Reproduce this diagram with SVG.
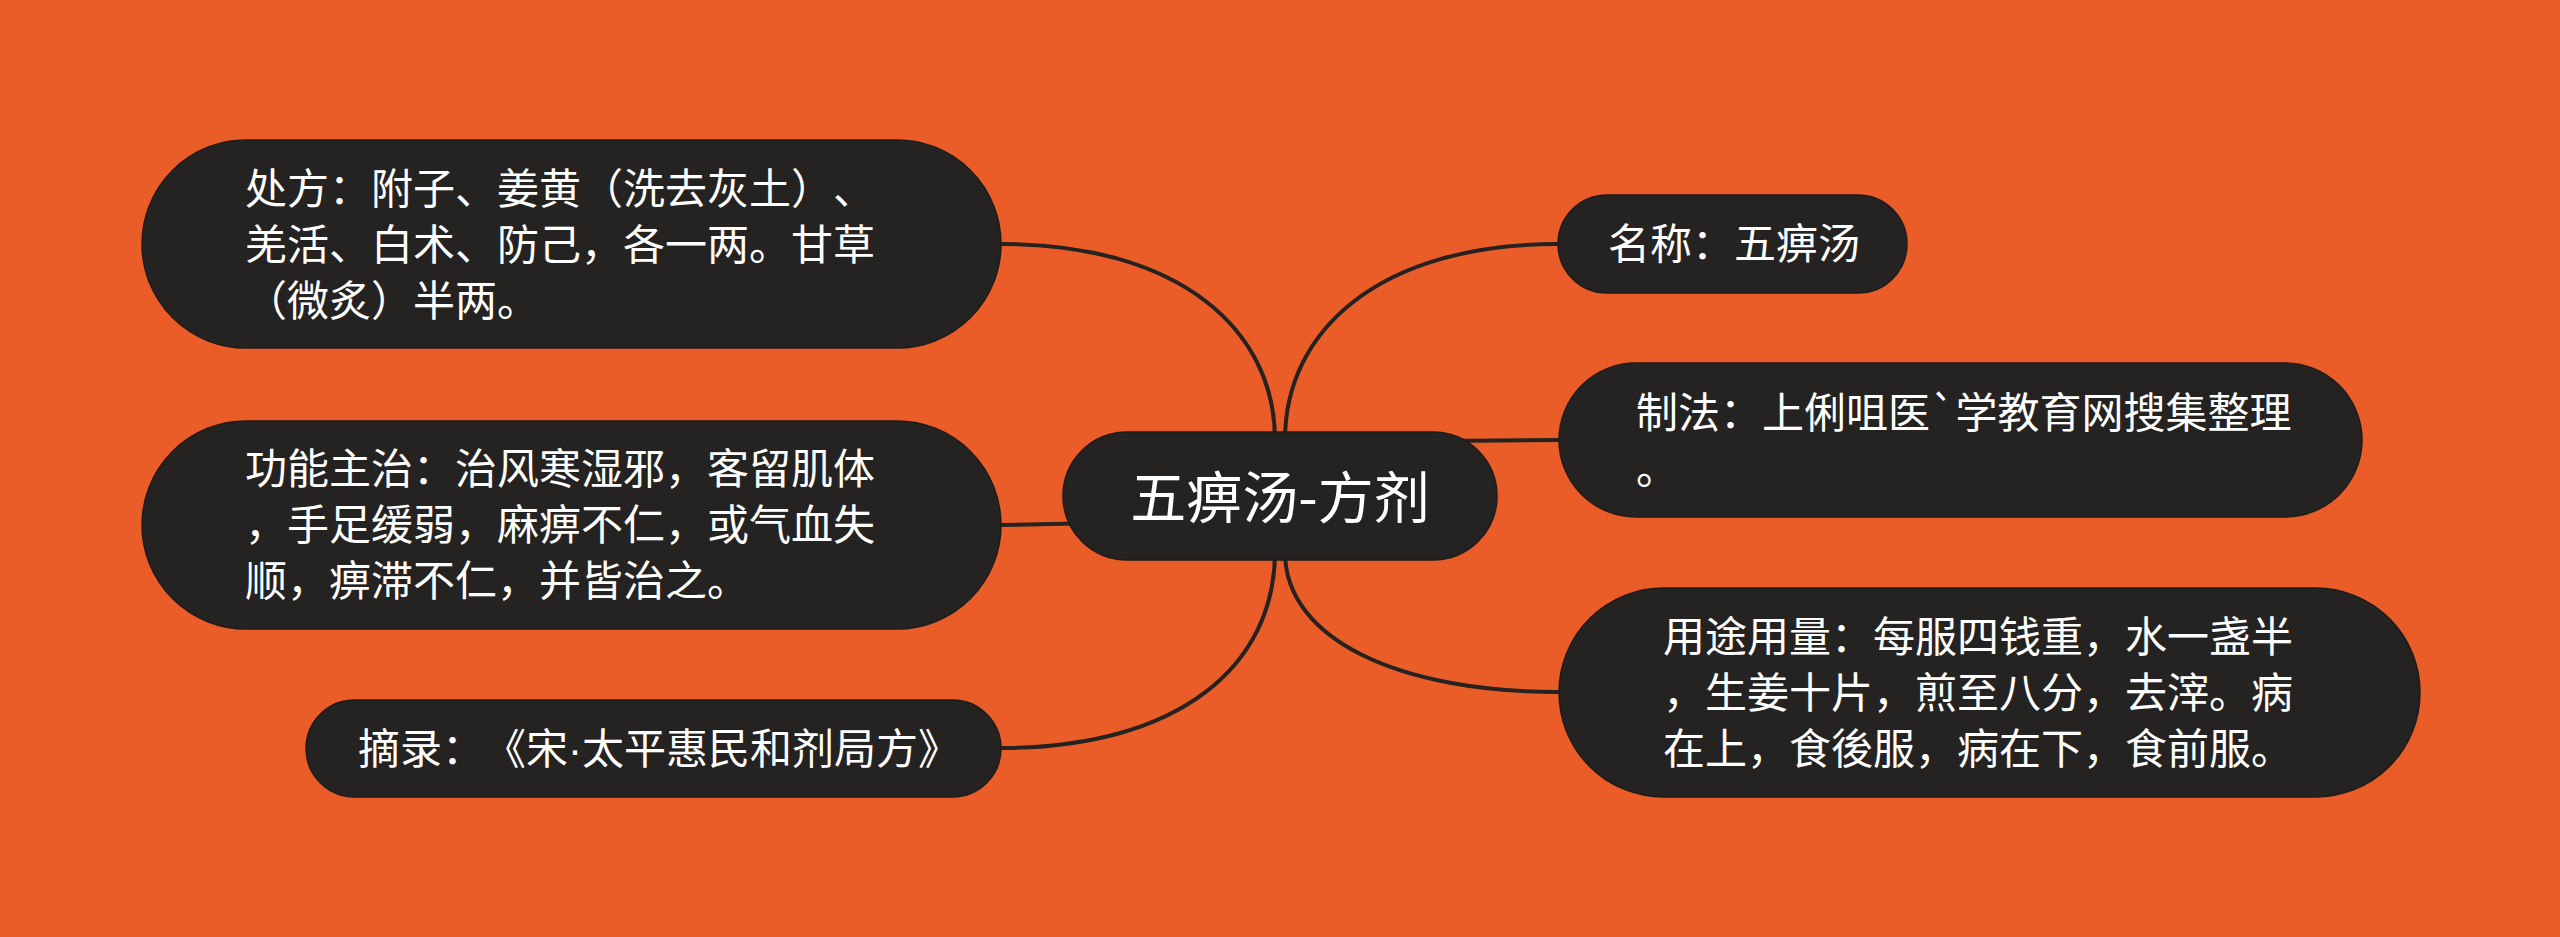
<svg xmlns="http://www.w3.org/2000/svg" width="2560" height="937" viewBox="0 0 2560 937">
<style>
.bg{fill:#EA5D29}
.pill{fill:#252322;stroke:#1e1c1b;stroke-width:1.5}
.t{font-family:"Noto Sans CJK SC","Noto Sans",sans-serif;font-size:42px;fill:#ffffff;text-spacing-trim:space-all;font-kerning:none}
.ct{font-family:"Noto Sans CJK SC","Noto Sans",sans-serif;font-size:56px;fill:#ffffff;text-anchor:middle}
.dot{font-family:"Liberation Sans",sans-serif}
.ln{fill:none;stroke:#262220;stroke-width:4;stroke-linecap:round}
</style>
<rect class="bg" x="0" y="0" width="2560" height="937"/>
<g id="connectors">
<path class="ln" d="M1275,440 C1275,330 1180,244 1001,244"/>
<path class="ln" d="M1285,440 C1285,330 1380,244 1558,244"/>
<path class="ln" d="M1100,523 L1001,525"/>
<path class="ln" d="M1440,441 L1559,440"/>
<path class="ln" d="M1275,552 C1275,665 1180,748 1001,748"/>
<path class="ln" d="M1285,552 C1285,640 1400,692 1558,692"/>
</g>
<g id="node-center">
<rect class="pill" x="1063" y="432" width="434" height="128" rx="64"/>
<text class="ct" x="1280" y="518">五痹汤-方剂</text>
</g>
<g id="node-chufang">
<rect class="pill" x="142" y="140" width="859" height="208" rx="104"/>
<text class="t" x="245" y="204">处方：附子、姜黄（洗去灰土）、</text>
<text class="t" x="245" y="260">羌活、白术、防己，各一两。甘草</text>
<text class="t" x="245" y="316">（微炙）半两。</text>
</g>
<g id="node-gongneng">
<rect class="pill" x="142" y="421" width="859" height="208" rx="104"/>
<text class="t" x="245" y="484">功能主治：治风寒湿邪，客留肌体</text>
<text class="t" x="245" y="540">，手足缓弱，麻痹不仁，或气血失</text>
<text class="t" x="245" y="596">顺，痹滞不仁，并皆治之。</text>
</g>
<g id="node-zhailu">
<rect class="pill" x="306" y="700" width="695" height="97" rx="48.5"/>
<text class="t" x="358" y="764">摘录：《宋<tspan class="dot">·</tspan>太平惠民和剂局方》</text>
</g>
<g id="node-mingcheng">
<rect class="pill" x="1558" y="195" width="349" height="98" rx="49"/>
<text class="t" x="1608" y="259">名称：五痹汤</text>
</g>
<g id="node-zhifa">
<rect class="pill" x="1559" y="363" width="803" height="154" rx="77"/>
<text class="t" x="1636" y="428">制法：上俐咀医`学教育网搜集整理</text>
<text class="t" x="1636" y="484">。</text>
</g>
<g id="node-yongtu">
<rect class="pill" x="1559" y="588" width="861" height="209" rx="104.5"/>
<text class="t" x="1663" y="652">用途用量：每服四钱重，水一盏半</text>
<text class="t" x="1663" y="708">，生姜十片，煎至八分，去滓。病</text>
<text class="t" x="1663" y="764">在上，食後服，病在下，食前服。</text>
</g>
</svg>
